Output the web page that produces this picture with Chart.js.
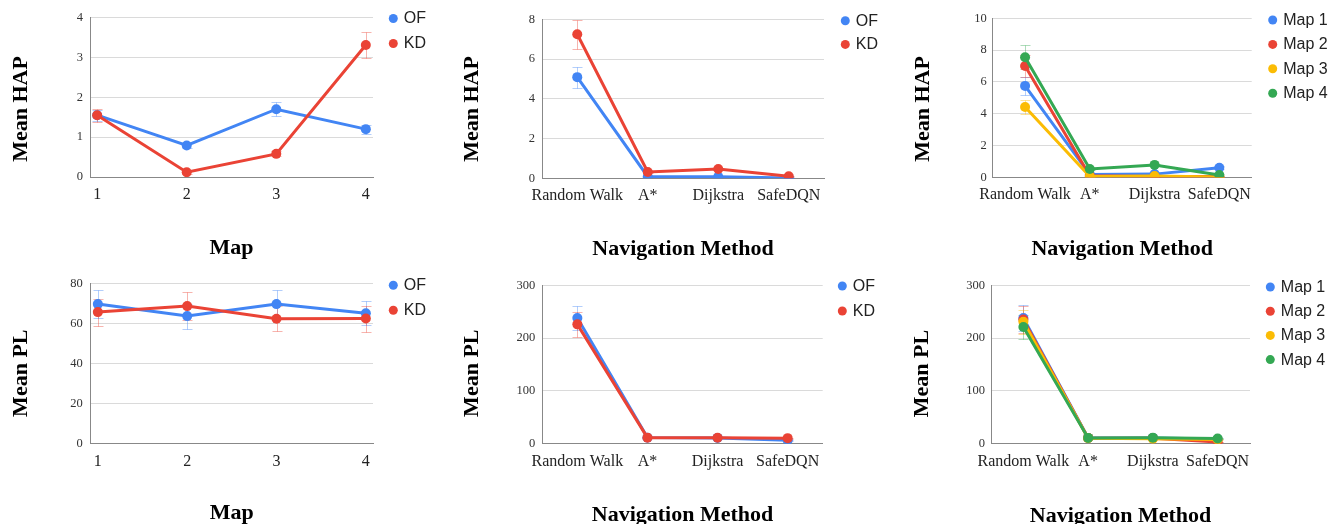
<!DOCTYPE html>
<html>
<head>
<meta charset="utf-8">
<script src="https://cdn.jsdelivr.net/npm/chart.js@4.4.0/dist/chart.umd.min.js"></script>
<style>
  html, body { margin: 0; padding: 0; background: #fff; }
  body { width: 1334px; height: 524px; position: relative; overflow: hidden; }
  .cell { position: absolute; }
</style>
</head>
<body>
<div class="cell" style="left:0;top:0;width:445px;height:262px"><canvas id="c1"></canvas></div>
<div class="cell" style="left:445px;top:0;width:445px;height:262px"><canvas id="c2"></canvas></div>
<div class="cell" style="left:890px;top:0;width:444px;height:262px"><canvas id="c3"></canvas></div>
<div class="cell" style="left:0;top:262px;width:445px;height:262px"><canvas id="c4"></canvas></div>
<div class="cell" style="left:445px;top:262px;width:445px;height:262px"><canvas id="c5"></canvas></div>
<div class="cell" style="left:890px;top:262px;width:444px;height:262px"><canvas id="c6"></canvas></div>
<script>
const maps = [1, 2, 3, 4];
const methods = ["Random Walk", "A*", "Dijkstra", "SafeDQN"];
const groups = ["OF", "KD"];
const mapNames = ["Map 1", "Map 2", "Map 3", "Map 4"];

// mean HAP per map
const hapMapOF = [1.55, 0.79, 1.7, 1.2];
const hapMapOFErr = [0.14, 0.06, 0.17, 0.11];
const hapMapKD = [1.55, 0.12, 0.58, 3.31];
const hapMapKDErr = [0.16, 0.04, 0.06, 0.33];

// mean HAP per navigation method
const hapMethodOF = [5.09, 0.08, 0.08, 0.02];
const hapMethodOFErr = [0.53, 0.02, 0.02, 0.01];
const hapMethodKD = [7.25, 0.32, 0.47, 0.1];
const hapMethodKDErr = [0.72, 0.05, 0.06, 0.03];

// mean HAP per method, one line per map
const hapMap1 = [5.75, 0.17, 0.2, 0.6];
const hapMap1Err = [0.58, 0.04, 0.04, 0.08];
const hapMap2 = [7.0, 0.1, 0.05, 0.05];
const hapMap2Err = [0.7, 0.03, 0.02, 0.02];
const hapMap3 = [4.42, 0.05, 0.08, 0.02];
const hapMap3Err = [0.47, 0.02, 0.02, 0.01];
const hapMap4 = [7.55, 0.52, 0.78, 0.15];
const hapMap4Err = [0.75, 0.06, 0.08, 0.04];

// mean PL per map
const plMapOF = [69.8, 63.8, 69.8, 65.2];
const plMapOFErr = [7.0, 6.2, 7.0, 6.0];
const plMapKD = [65.8, 68.8, 62.5, 62.6];
const plMapKDErr = [6.8, 7.0, 6.3, 6.5];

// mean PL per navigation method
const plMethodOF = [238, 11.5, 11, 6.5];
const plMethodOFErr = [23, 1.2, 1.1, 0.8];
const plMethodKD = [226, 11.5, 11.3, 10.5];
const plMethodKDErr = [23, 1.2, 1.1, 1.0];

// mean PL per method, one line per map
const plMap1 = [238, 11, 11, 9];
const plMap1Err = [24, 1, 1, 1];
const plMap2 = [235, 11, 10.5, 3];
const plMap2Err = [25, 1, 1, 0.5];
const plMap3 = [231, 10.5, 9.5, 8];
const plMap3Err = [23, 1, 1, 1];
const plMap4 = [221, 11, 11.5, 10];
const plMap4Err = [22, 1, 1, 1];

const colors = ["#4285f4", "#ea4335", "#fbbc04", "#34a853"];
const serif = '"Liberation Serif", "Times New Roman", serif';
const sans = '"Liberation Sans", Arial, sans-serif';

function rgba(hex, a) {
  const n = parseInt(hex.slice(1), 16);
  return `rgba(${n >> 16},${(n >> 8) & 255},${n & 255},${a})`;
}

function line(label, data, errors, i) {
  return {
    label, data, errors,
    borderColor: colors[i],
    backgroundColor: colors[i],
    errColor: rgba(colors[i], 0.4),
    borderWidth: 3,
    pointRadius: 5,
    pointHoverRadius: 5,
    pointBorderWidth: 0,
    tension: 0,
    order: -i, // later series on top
  };
}

// error bars, axis titles and legend
const extras = {
  id: "extras",
  beforeDatasetsDraw(chart) {
    const ctx = chart.ctx;
    const y = chart.scales.y;
    chart.data.datasets.forEach((ds, i) => {
      const meta = chart.getDatasetMeta(i);
      ctx.save();
      ctx.strokeStyle = ds.errColor;
      ctx.lineWidth = 1;
      meta.data.forEach((pt, j) => {
        const hi = Math.round(y.getPixelForValue(ds.data[j] + ds.errors[j])) + 0.5;
        const lo = Math.round(y.getPixelForValue(ds.data[j] - ds.errors[j])) + 0.5;
        const x = Math.round(pt.x) + 0.5;
        ctx.beginPath();
        ctx.moveTo(x, hi); ctx.lineTo(x, lo);
        ctx.moveTo(x - 5, hi); ctx.lineTo(x + 5, hi);
        ctx.moveTo(x - 5, lo); ctx.lineTo(x + 5, lo);
        ctx.stroke();
      });
      ctx.restore();
    });
  },
  afterDraw(chart, args, o) {
    const ctx = chart.ctx;
    const area = chart.chartArea;
    ctx.save();
    ctx.fillStyle = "#000";
    ctx.font = "bold 22px " + serif;
    ctx.textAlign = "center";
    ctx.textBaseline = "alphabetic";
    ctx.fillText(o.xTitle, (area.left + area.right) / 2, o.xTitleY);
    ctx.save();
    ctx.translate(o.yTitleX, o.yTitleY);
    ctx.rotate(-Math.PI / 2);
    ctx.fillText(o.yTitle, 0, 0);
    ctx.restore();

    ctx.font = "16px " + sans;
    ctx.textAlign = "left";
    ctx.textBaseline = "middle";
    chart.data.datasets.forEach((ds, i) => {
      const cy = o.legY + i * o.legStep;
      ctx.fillStyle = ds.borderColor;
      ctx.beginPath();
      ctx.arc(o.legX, cy, 4.5, 0, Math.PI * 2);
      ctx.fill();
      ctx.fillStyle = "#222";
      ctx.fillText(ds.label, o.legX + 10.5, cy + 0.5);
    });
    ctx.restore();
  },
};

function draw(id, s) {
  const xTicks = {
    font: { family: serif, size: 16 },
    color: "#222",
    padding: 8,
    autoSkip: false,
    maxRotation: 0,
    minRotation: 0,
  };
  const x = s.linear
    ? {
        type: "linear", min: 0.92, max: 4.08,
        afterBuildTicks: (sc) => { sc.ticks = maps.map((v) => ({ value: v })); },
      }
    : { type: "category", offset: true };
  Object.assign(x, {
    grid: { display: false, drawTicks: false },
    border: { display: true, color: "#888", width: 1 },
    ticks: xTicks,
    afterFit: (sc) => { sc.height = s.xH; },
  });

  new Chart(document.getElementById(id), {
    type: "line",
    data: { labels: s.labels, datasets: s.datasets },
    options: {
      responsive: true,
      maintainAspectRatio: false,
      animation: false,
      events: [],
      layout: { padding: { top: s.top, right: s.right, left: 0, bottom: 0 } },
      plugins: {
        legend: { display: false },
        tooltip: { enabled: false },
        extras: s.deco,
      },
      scales: {
        x,
        y: {
          min: 0, max: s.yMax,
          ticks: {
            stepSize: s.yStep,
            font: { family: serif, size: 12.5 },
            color: "#333",
            padding: s.yPad,
          },
          grid: {
            drawTicks: false,
            color: (c) => (c.tick && c.tick.value === 0 ? "#888" : "#dadada"),
          },
          border: { display: true, color: "#888", width: 1 },
          afterFit: (sc) => { sc.width = s.yW; },
        },
      },
    },
    plugins: [extras],
  });
}

draw("c1", {
  linear: true, labels: maps, yMax: 4, yStep: 1, yPad: 7,
  yW: 90, top: 17.5, right: 72, xH: 85,
  datasets: [line(groups[0], hapMapOF, hapMapOFErr, 0), line(groups[1], hapMapKD, hapMapKDErr, 1)],
  deco: { xTitle: "Map", yTitle: "Mean HAP", xTitleY: 254, yTitleX: 27.3, yTitleY: 109, legX: 393.3, legY: 18.5, legStep: 25 },
});

draw("c2", {
  linear: false, labels: methods, yMax: 8, yStep: 2, yPad: 7,
  yW: 97, top: 19.3, right: 66, xH: 83.7,
  datasets: [line(groups[0], hapMethodOF, hapMethodOFErr, 0), line(groups[1], hapMethodKD, hapMethodKDErr, 1)],
  deco: { xTitle: "Navigation Method", yTitle: "Mean HAP", xTitleY: 255.3, yTitleX: 33.3, yTitleY: 109, legX: 400.3, legY: 20.7, legStep: 23.7 },
});

draw("c3", {
  linear: false, labels: methods, yMax: 10, yStep: 2, yPad: 6,
  yW: 102.7, top: 18.3, right: 82.3, xH: 84.7,
  datasets: [
    line(mapNames[0], hapMap1, hapMap1Err, 0),
    line(mapNames[1], hapMap2, hapMap2Err, 1),
    line(mapNames[2], hapMap3, hapMap3Err, 2),
    line(mapNames[3], hapMap4, hapMap4Err, 3),
  ],
  deco: { xTitle: "Navigation Method", yTitle: "Mean HAP", xTitleY: 255.3, yTitleX: 39.3, yTitleY: 109, legX: 382.7, legY: 20, legStep: 24.4 },
});

draw("c4", {
  linear: true, labels: maps, yMax: 80, yStep: 20, yPad: 8,
  yW: 90.7, top: 21.7, right: 72, xH: 80.3,
  datasets: [line(groups[0], plMapOF, plMapOFErr, 0), line(groups[1], plMapKD, plMapKDErr, 1)],
  deco: { xTitle: "Map", yTitle: "Mean PL", xTitleY: 257.3, yTitleX: 27.3, yTitleY: 111.2, legX: 393.3, legY: 23.3, legStep: 25 },
});

draw("c5", {
  linear: false, labels: methods, yMax: 300, yStep: 100, yPad: 7,
  yW: 97.3, top: 23.3, right: 67.3, xH: 80.3,
  datasets: [line(groups[0], plMethodOF, plMethodOFErr, 0), line(groups[1], plMethodKD, plMethodKDErr, 1)],
  deco: { xTitle: "Navigation Method", yTitle: "Mean PL", xTitleY: 258.6, yTitleX: 33.3, yTitleY: 111.2, legX: 397.3, legY: 24, legStep: 25 },
});

draw("c6", {
  linear: false, labels: methods, yMax: 300, yStep: 100, yPad: 6,
  yW: 101, top: 23.3, right: 84, xH: 80.3,
  datasets: [
    line(mapNames[0], plMap1, plMap1Err, 0),
    line(mapNames[1], plMap2, plMap2Err, 1),
    line(mapNames[2], plMap3, plMap3Err, 2),
    line(mapNames[3], plMap4, plMap4Err, 3),
  ],
  deco: { xTitle: "Navigation Method", yTitle: "Mean PL", xTitleY: 259.6, yTitleX: 38.3, yTitleY: 111.5, legX: 380.3, legY: 25, legStep: 24.2 },
});
</script>
</body>
</html>
